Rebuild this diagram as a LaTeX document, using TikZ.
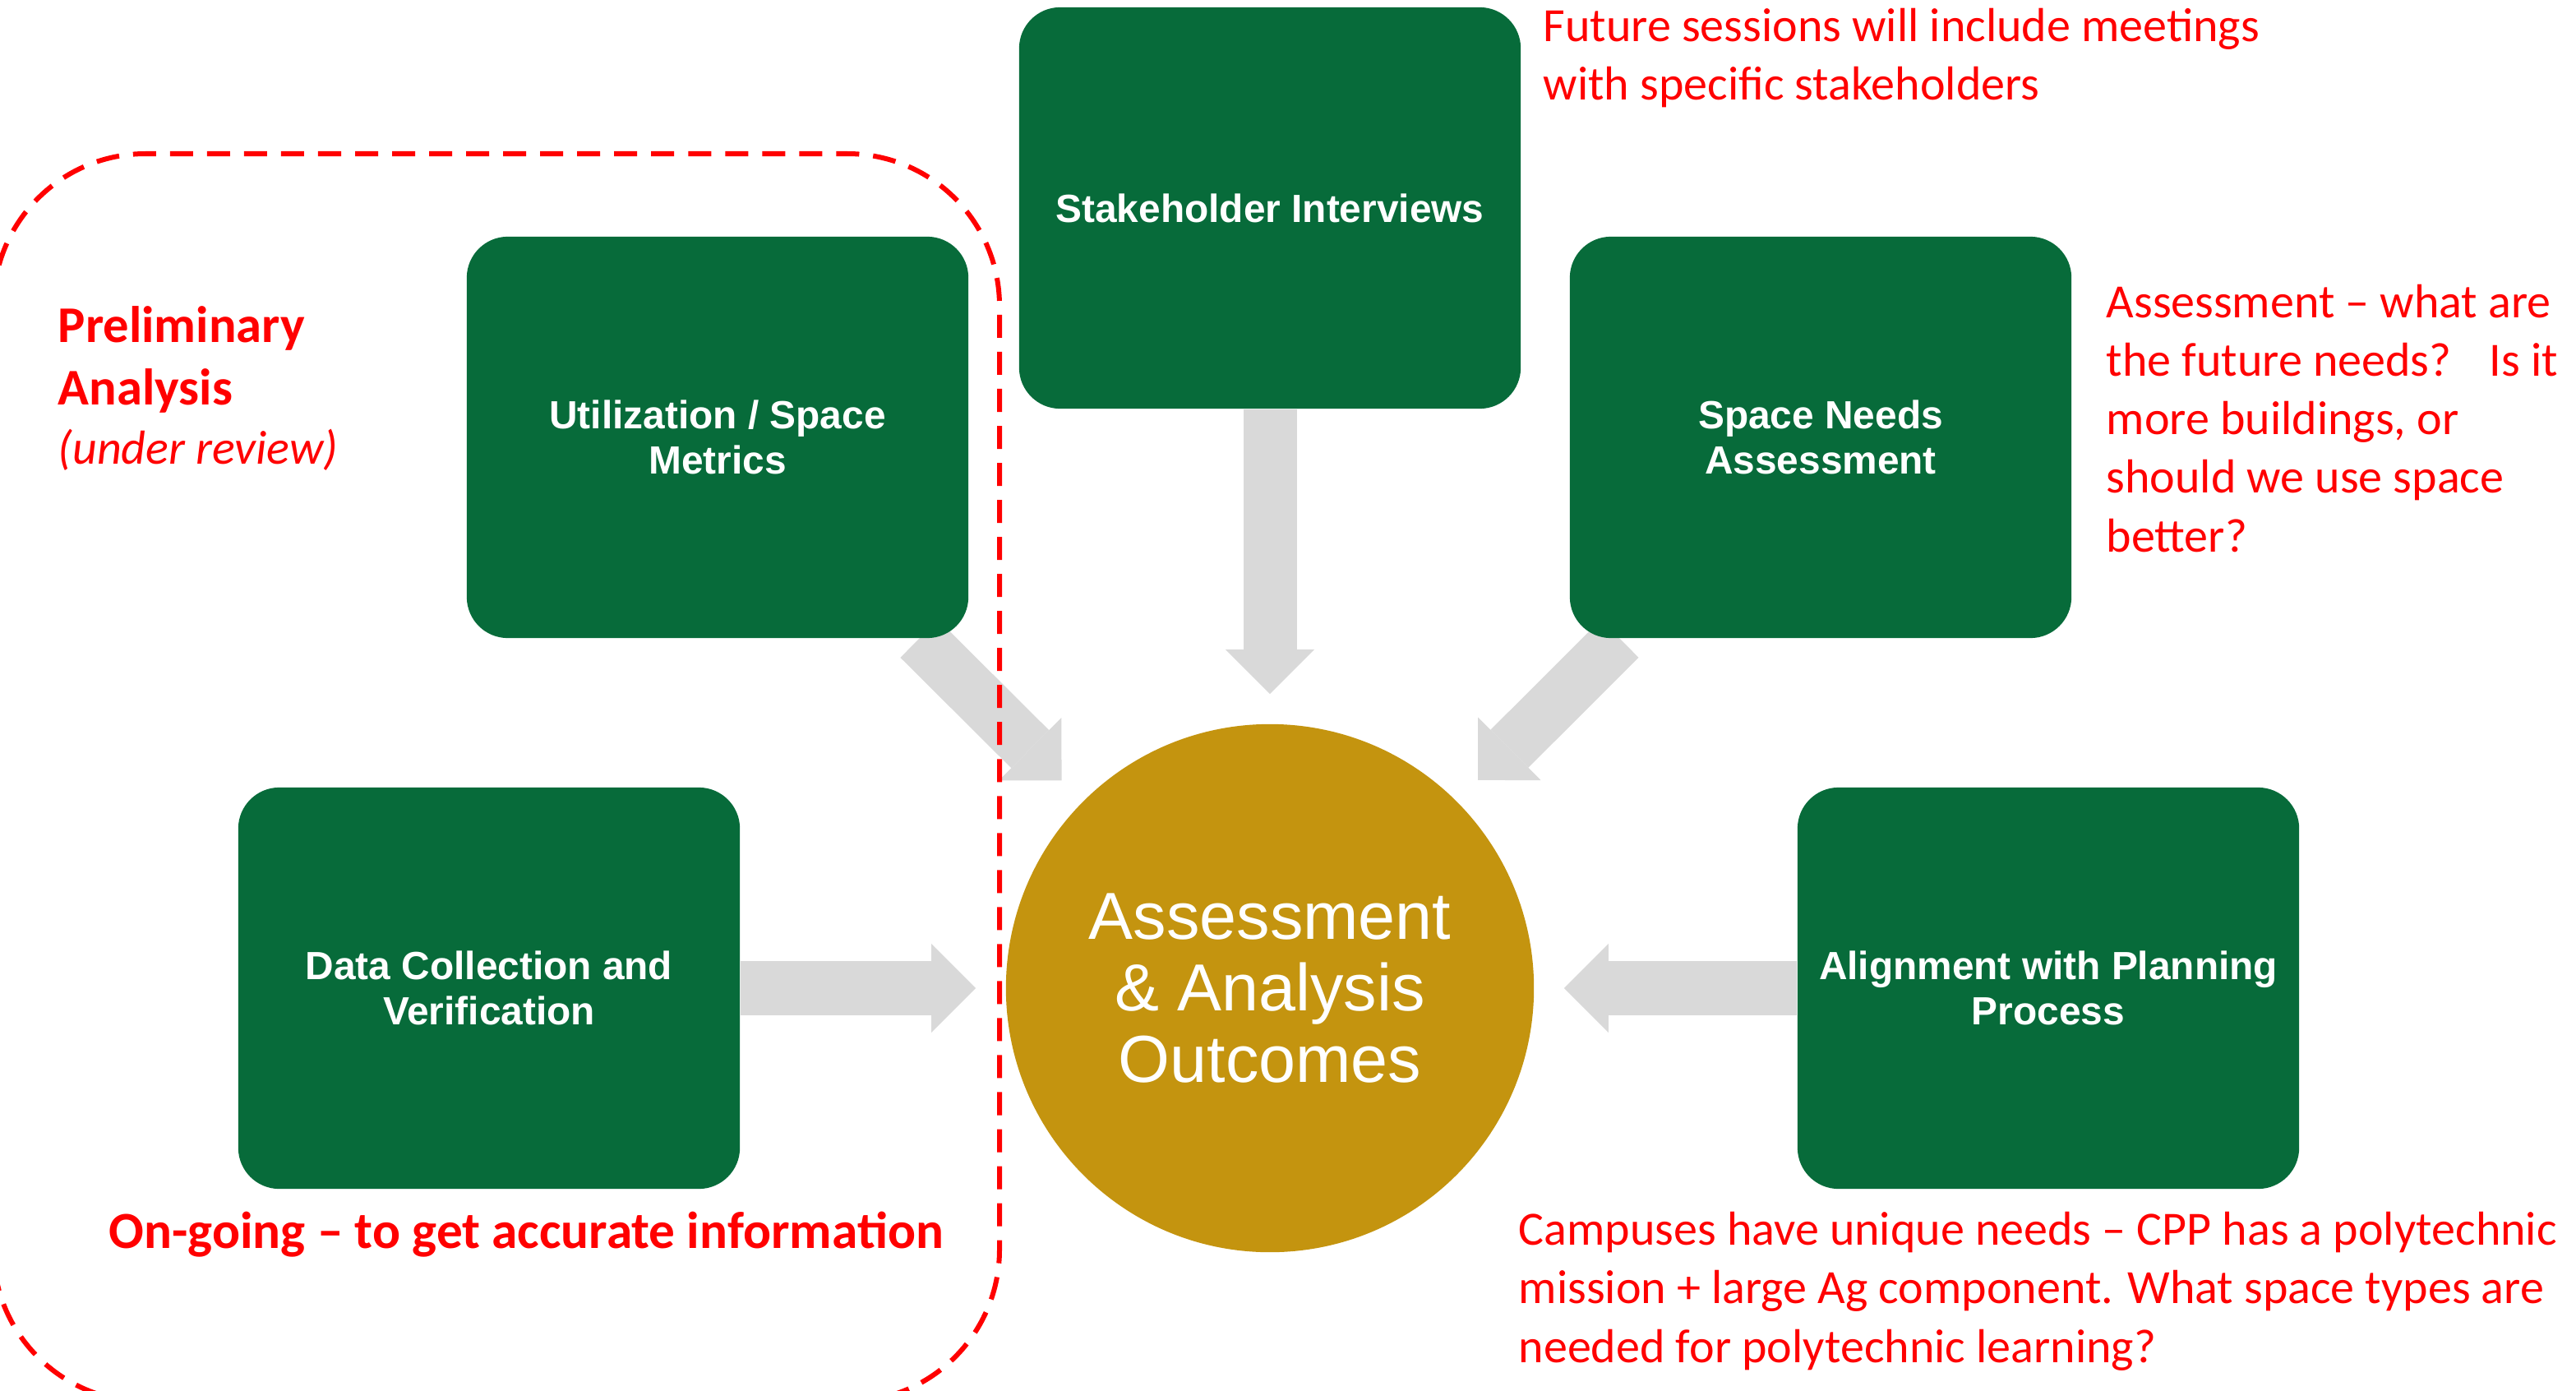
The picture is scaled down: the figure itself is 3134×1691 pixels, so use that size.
\documentclass[tikz,border=0pt]{standalone}
\usepackage{fontspec}
\setmainfont{Carlito}
\newfontfamily\boxfont{Liberation Sans}
\usetikzlibrary{arrows.meta,backgrounds}
\definecolor{cppgreen}{HTML}{076B3A}
\definecolor{cppgold}{HTML}{C4940F}
\definecolor{arrowgray}{HTML}{D9D9D9}
\definecolor{notered}{HTML}{FF0000}

\begin{document}
\begin{tikzpicture}[x=0.01cm, y=-0.01cm,
    greenbox/.style={rectangle, rounded corners=0.5cm, fill=cppgreen, text=white,
      minimum width=6.1cm, minimum height=4.88cm, align=center, inner sep=0pt,
      font=\boxfont\bfseries\fontsize{13.6}{15.6}\selectfont},
    outcome/.style={circle, fill=cppgold, text=white, minimum size=6.42cm,
      inner sep=0pt, align=center, font=\boxfont\fontsize{23}{24.75}\selectfont},
    blockarrow/.style={arrowgray, line width=0.65cm, shorten >=0.36cm,
      -{Triangle[width=1.08cm,length=0.54cm,line width=0pt]}},
    note/.style={text=notered, anchor=base west, align=left, inner sep=0pt,
      font=\fontsize{16.5}{20.2}\selectfont},
    boldnote/.style={note, font=\bfseries\fontsize{17.8}{21.6}\selectfont}]
    \useasboundingbox (0,0) rectangle (3134,1691);
    \clip (0,0) rectangle (3134,1691);
    % Kaesten
    \node[greenbox] (stake) at (1545,253) {Stakeholder Interviews};
    \node[greenbox] (util)  at (873,532)  {Utilization / Space\\Metrics};
    \node[greenbox] (space) at (2215,532) {Space Needs\\Assessment};
    \node[greenbox] (data)  at (595,1202) {Data Collection and\\Verification};
    \node[greenbox] (align) at (2492,1202) {Alignment with Planning\\Process};
    \node[outcome]  (outc)  at (1545,1202) {Assessment\\\& Analysis\\Outcomes};
    % Pfeile
    \begin{scope}[on background layer]
        \draw[blockarrow] (stake) -- (outc);
        \draw[blockarrow] (util)  -- (outc);
        \draw[blockarrow] (space) -- (outc);
        \draw[blockarrow] (data)  -- (outc);
        \draw[blockarrow] (align) -- (outc);
    \end{scope}
    % Rahmen
    \draw[notered, line width=0.06cm, dash pattern=on 0.28cm off 0.17cm,
        rounded corners=1.85cm] (-8,187) rectangle (1216,1705);
    % Notizen (Anker: Grundlinie der letzten Zeile)
    \node[boldnote] (prelim) at (70,492) {Preliminary\\Analysis};
    \node[note, font=\itshape\fontsize{16.5}{20.2}\selectfont] (review) at (70,564) {(under review)};
    \node[boldnote, font=\bfseries\fontsize{18}{21.6}\selectfont] (ongoing) at (132,1518)
        {On-going -- to get accurate information};
    \node[note] (future) at (1877,122)
        {Future sessions will include meetings\\with specific stakeholders};
    \node[note] (needs) at (2562,671)
        {Assessment -- what are\\the future needs?\hspace{0.8em}Is it\\more buildings, or\\should we use space\\better?};
    \node[note] (campus) at (1847,1657)
        {Campuses have unique needs -- CPP has a polytechnic\\mission + large Ag component. What space types are\\needed for polytechnic learning?};
\end{tikzpicture}
\end{document}
